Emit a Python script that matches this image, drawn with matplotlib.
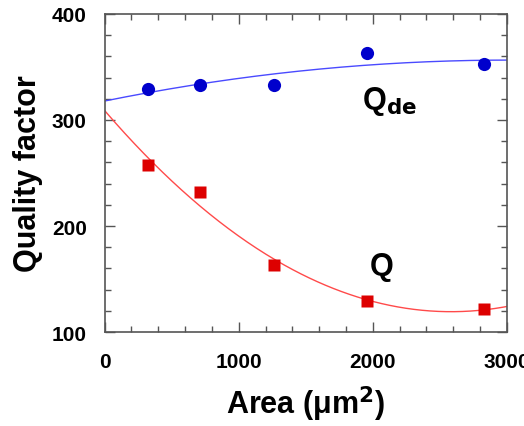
import numpy as np
import matplotlib
matplotlib.use("Agg")
import matplotlib.pyplot as plt
from matplotlib.ticker import MultipleLocator

area = [320, 710, 1260, 1960, 2830]
q_de = [329, 333, 333, 363, 353]
q = [258, 232, 163, 129, 122]

x_ticks = [0, 1000, 2000, 3000]
y_ticks = [100, 200, 300, 400]

plt.rcParams['font.family'] = ['Liberation Sans', 'DejaVu Sans']

fig = plt.figure(figsize=(5.24, 4.27), dpi=100)
ax = fig.add_axes([0.1998, 0.220, 0.7672, 0.745])

xs = np.linspace(0, 3000, 300)
c_de = np.polyfit(area, q_de, 2)
c_q = np.polyfit(area, q, 2)
ax.plot(xs, np.polyval(c_de, xs), color='#4a4aff', lw=1.0)
ax.plot(xs, np.polyval(c_q, xs), color='#ff4a4a', lw=1.0)

ax.plot(area, q_de, 'o', color='#0000cc', ms=9.5, mec='none')
ax.plot(area, q, 's', color='#dd0000', ms=9, mec='none')

ax.set_xlim(0, 3000)
ax.set_ylim(100, 400)
ax.set_xticks(x_ticks)
ax.set_yticks(y_ticks)
ax.xaxis.set_minor_locator(MultipleLocator(200))
ax.yaxis.set_minor_locator(MultipleLocator(20))
ax.tick_params(which='both', direction='in', top=True, right=True, color='#555555')
ax.tick_params(which='major', length=7, width=1)
ax.tick_params(which='minor', length=4, width=1)
ax.tick_params(axis='x', labelsize=15, pad=14)
ax.tick_params(axis='y', labelsize=15, pad=13)
for lab in ax.get_xticklabels() + ax.get_yticklabels():
    lab.set_fontweight('bold')
for s in ax.spines.values():
    s.set_color('#555555')
    s.set_linewidth(1.2)

ax.set_xlabel('Area (μm$^{\\mathbf{2}}$)', fontsize=22, fontweight='bold', labelpad=9)
ax.set_ylabel('Quality factor', fontsize=22, fontweight='bold', labelpad=6)

ax.text(1920, 311, 'Q$_{\\mathbf{de}}$', fontsize=22, fontweight='bold')
ax.text(1975, 155, 'Q', fontsize=22, fontweight='bold')

fig.savefig('out.png', dpi=100)
